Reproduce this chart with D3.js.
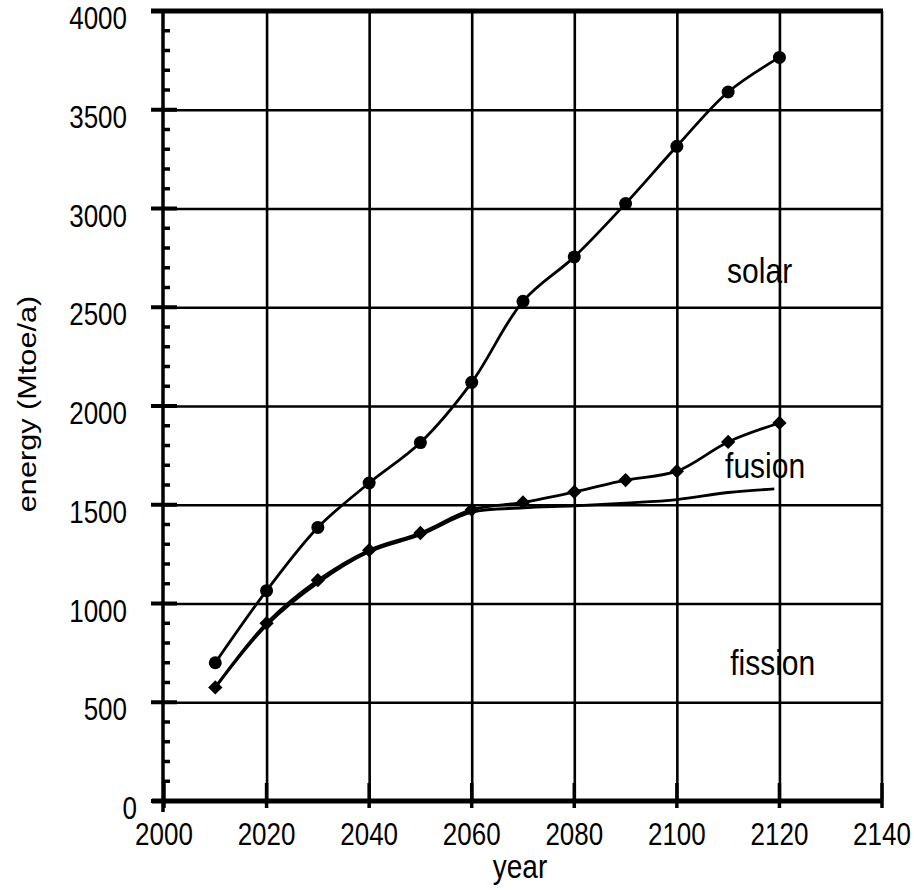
<!DOCTYPE html>
<html>
<head>
<meta charset="utf-8">
<script src="https://cdn.jsdelivr.net/npm/d3@7"></script>
<style>
  body { margin: 0; background: #fff; }
  text { font-family: "Liberation Sans", Arial, sans-serif; fill: #000; }
</style>
</head>
<body>
<svg id="chart" width="914" height="890"></svg>
<script>
// data
const years = [2010, 2020, 2030, 2040, 2050, 2060, 2070, 2080, 2090, 2100, 2110, 2120];
const solar = [700, 1065, 1385, 1610, 1815, 2120, 2530, 2755, 3025, 3315, 3590, 3765];
const fusion = [575, 900, 1118, 1270, 1357, 1475, 1512, 1565, 1625, 1670, 1818, 1914];
const fissionYears = [2010, 2020, 2030, 2040, 2050, 2060, 2070, 2080, 2090, 2100, 2110, 2119];
const fission = [575, 890, 1105, 1262, 1348, 1462, 1484, 1494, 1508, 1526, 1562, 1580];

const xTicks = [2000, 2020, 2040, 2060, 2080, 2100, 2120, 2140];
const yTicks = [0, 500, 1000, 1500, 2000, 2500, 3000, 3500, 4000];
const yMinor = d3.range(100, 4000, 100).filter(v => v % 500 !== 0);

// series labels, placed in data units
const seriesLabels = [
  { text: "solar", year: 2109.8, value: 2623 },
  { text: "fusion", year: 2109.4, value: 1635 },
  { text: "fission", year: 2110.4, value: 638 }
];

const svg = d3.select("#chart");

const x = d3.scaleLinear().domain([2000, 2140]).range([164, 882]);
const y = d3.scaleLinear().domain([0, 4000]).range([801, 11]);

const x0 = x(2000), x1 = x(2140), y0 = y(0), y1 = y(4000);
const stretch = 1.18; // the scan is a bit taller than wide

// grid
svg.append("g")
  .attr("transform", `translate(${x0},0)`)
  .call(d3.axisLeft(y).tickValues(yTicks.filter(v => v > 0 && v < 4000))
    .tickSize(-(x1 - x0)).tickFormat(""))
  .call(g => g.select(".domain").remove())
  .selectAll("line").attr("stroke", "#000").attr("stroke-width", 2.6);

svg.append("g")
  .attr("transform", `translate(0,${y0})`)
  .call(d3.axisBottom(x).tickValues(xTicks.filter(v => v > 2000 && v < 2140))
    .tickSize(-(y0 - y1)).tickFormat(""))
  .call(g => g.select(".domain").remove())
  .selectAll("line").attr("stroke", "#000").attr("stroke-width", 2.6);

// frame
svg.append("line").attr("x1", x1).attr("x2", x1).attr("y1", y1).attr("y2", y0)
  .attr("stroke", "#000").attr("stroke-width", 2.6);
svg.append("line").attr("x1", x0 - 13).attr("x2", x1 + 1).attr("y1", y1).attr("y2", y1)
  .attr("stroke", "#000").attr("stroke-width", 5);
svg.append("line").attr("x1", x0 - 12).attr("x2", x1 + 1).attr("y1", y0).attr("y2", y0)
  .attr("stroke", "#000").attr("stroke-width", 5);
svg.append("line").attr("x1", x0 - 1).attr("x2", x0 - 1).attr("y1", y1).attr("y2", y0 + 11)
  .attr("stroke", "#000").attr("stroke-width", 3.5);

// y ticks
svg.append("g").selectAll("line")
  .data(yTicks)
  .join("line")
  .attr("x1", x0 - 13).attr("x2", x0 + 13)
  .attr("y1", d => y(d)).attr("y2", d => y(d))
  .attr("stroke", "#000").attr("stroke-width", 4);

svg.append("g").selectAll("line")
  .data(yMinor)
  .join("line")
  .attr("x1", x0 - 1).attr("x2", x0 + 6)
  .attr("y1", d => y(d)).attr("y2", d => y(d))
  .attr("stroke", "#000").attr("stroke-width", 3.5);

svg.append("g").selectAll("text")
  .data(yTicks)
  .join("text")
  .attr("transform", d => `translate(${d === 0 ? x0 - 27 : x0 - 37},${y(d) + 18}) scale(1,${stretch})`)
  .attr("text-anchor", "end")
  .style("font-size", "26px")
  .text(d => d);

// x ticks
svg.append("g").selectAll("line")
  .data(xTicks)
  .join("line")
  .attr("x1", d => x(d)).attr("x2", d => x(d))
  .attr("y1", y0 - 18).attr("y2", y0 + 7)
  .attr("stroke", "#000").attr("stroke-width", 3.5);

svg.append("g").selectAll("text")
  .data(xTicks)
  .join("text")
  .attr("transform", d => `translate(${x(d)},845) scale(1,${stretch})`)
  .attr("text-anchor", "middle")
  .style("font-size", "26px")
  .text(d => d);

// axis titles
svg.append("text")
  .attr("transform", `translate(520,878) scale(1,${stretch})`)
  .attr("text-anchor", "middle")
  .style("font-size", "28px")
  .text("year");

svg.append("text")
  .attr("transform", `translate(36,404) rotate(-90) scale(${stretch},1)`)
  .attr("text-anchor", "middle")
  .style("font-size", "26px")
  .text("energy (Mtoe/a)");

// lines
const line = d3.line()
  .x(d => x(d[0]))
  .y(d => y(d[1]))
  .curve(d3.curveCatmullRom.alpha(0.5));

function drawSeries(xs, vals) {
  svg.append("path")
    .datum(xs.map((yr, i) => [yr, vals[i]]))
    .attr("fill", "none")
    .attr("stroke", "#000")
    .attr("stroke-width", 2.8)
    .attr("d", line);
}

drawSeries(fissionYears, fission);
drawSeries(years, fusion);
drawSeries(years, solar);

// markers
svg.append("g").selectAll("circle")
  .data(years)
  .join("circle")
  .attr("cx", d => x(d))
  .attr("cy", (d, i) => y(solar[i]))
  .attr("r", 6.5)
  .attr("fill", "#000");

svg.append("g").selectAll("path")
  .data(years)
  .join("path")
  .attr("transform", (d, i) => `translate(${x(d)},${y(fusion[i])})`)
  .attr("d", d3.symbol(d3.symbolDiamond2, 130))
  .attr("fill", "#000");

// series labels
svg.append("g").selectAll("text")
  .data(seriesLabels)
  .join("text")
  .attr("transform", d => `translate(${x(d.year)},${y(d.value)}) scale(1,${stretch})`)
  .style("font-size", "30px")
  .text(d => d.text);
</script>
</body>
</html>
